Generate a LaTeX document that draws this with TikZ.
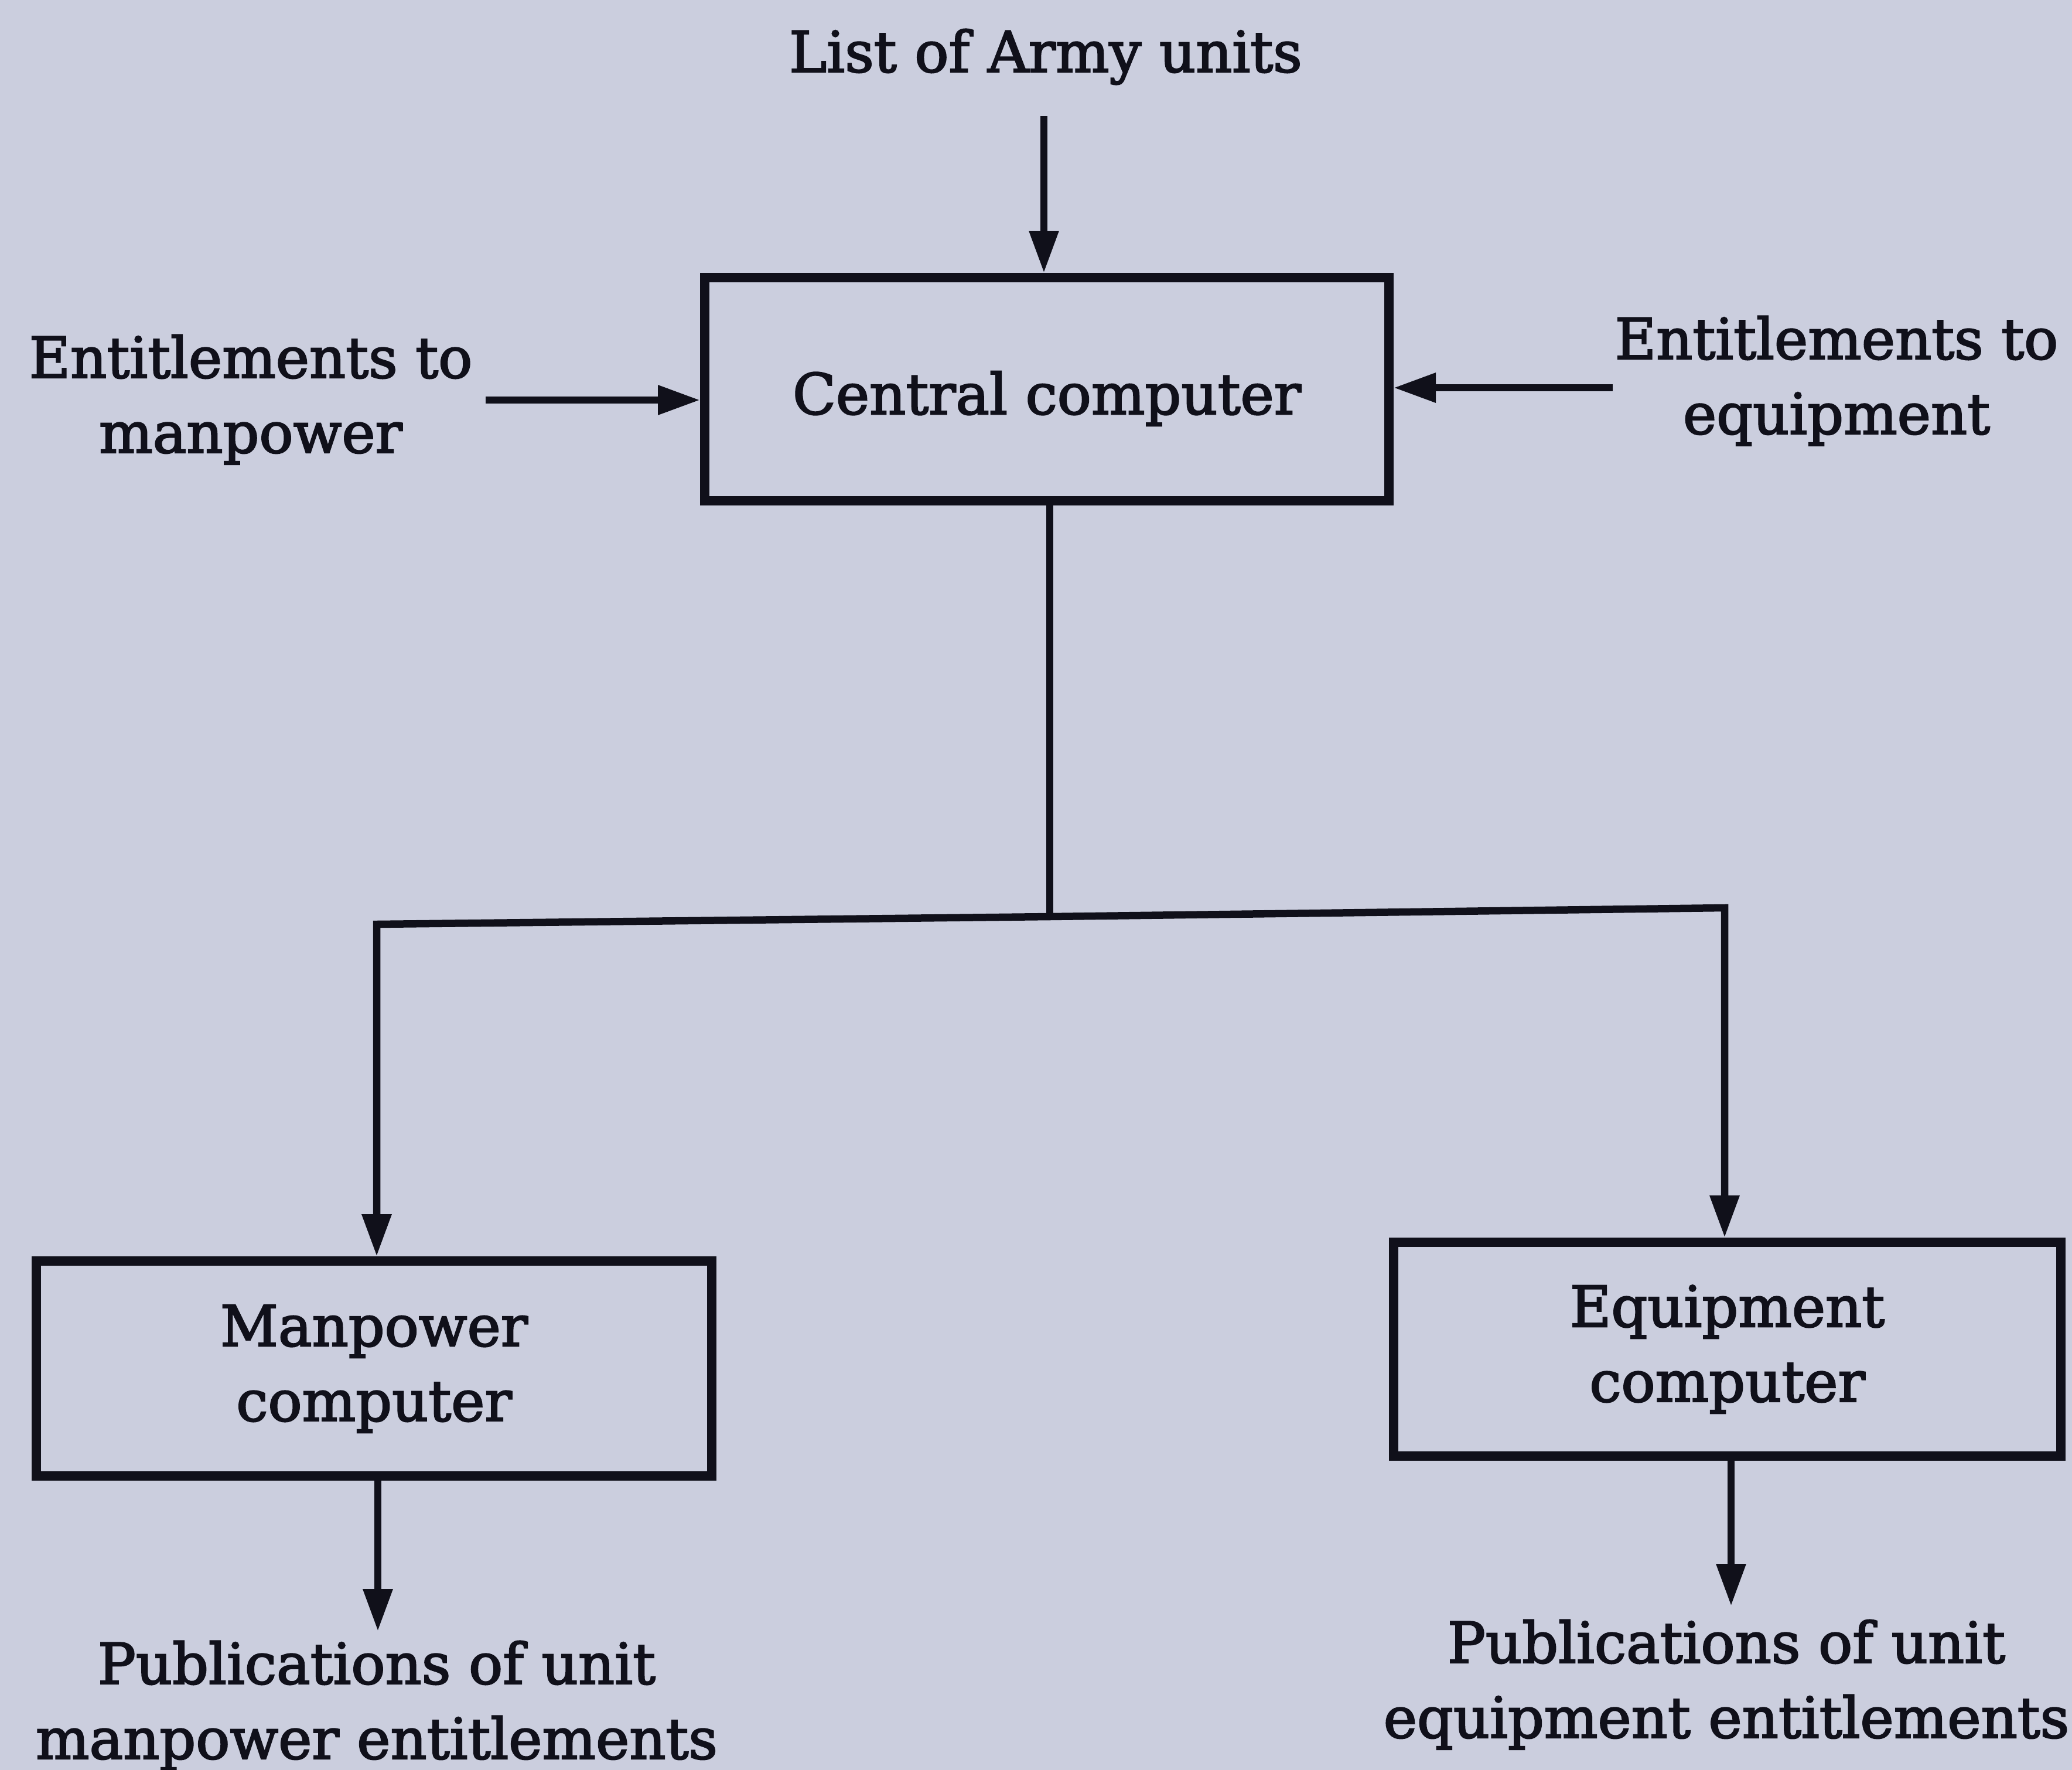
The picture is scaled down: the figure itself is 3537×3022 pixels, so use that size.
\documentclass[tikz,border=0pt]{standalone}
\usepackage{fontspec}
\setmainfont{DejaVu Serif}[FakeBold=2.4]
\usetikzlibrary{arrows.meta}
\definecolor{paper}{RGB}{203,206,222}
\definecolor{ink}{RGB}{16,16,26}
\newcommand{\twoline}[3][c]{\begin{tabular}[#1]{@{}c@{}}#2\\#3\end{tabular}}
\begin{document}
\begin{tikzpicture}[x=0.1mm, y=-0.1mm,
  lbl/.style={inner sep=0pt, outer sep=0pt, text=ink, font=\fontsize{27.5pt}{36.4pt}\selectfont},
  box/.style={lbl, draw=ink, line width=1.6mm, rectangle, outer sep=0.8mm},
  conn/.style={draw=ink, line width=1.25mm},
  arr/.style={conn, -{Triangle[length=7.2mm, width=4.8mm]}},
]
\fill[paper] (0,0) rectangle (3537,3022);
\useasboundingbox (0,0) rectangle (3537,3022);

% boxes
\node[box, minimum width=116.8mm, minimum height=38.1mm] (central) at (1787,664.5) {\raisebox{-1.6mm}[\height][\depth]{Central computer}};
\node[box, minimum width=115.3mm, minimum height=36.7mm] (man) at (638.5,2336.5) {\twoline{Manpower}{computer}};
\node[box, minimum width=113.9mm, minimum height=36.5mm] (eq) at (2948.5,2303.5) {\twoline{Equipment}{computer}};

% free labels
\node[lbl, anchor=base] (army) at (1785,123) {List of Army units};
\node[lbl, anchor=base] (entman) at (428,645) {\twoline[t]{Entitlements to}{manpower}};
\node[lbl, anchor=base] (enteq) at (3135,613) {\twoline[t]{Entitlements to}{equipment}};
\node[lbl, anchor=base] (pubman) at (643,2875) {\twoline[t]{Publications of unit}{manpower entitlements}};
\node[lbl, anchor=base] (pubeq) at (2947,2839) {\twoline[t]{Publications of unit}{equipment entitlements}};

% inputs to central computer
\coordinate (armyout) at (1782,198);
\draw[arr] (armyout) -- (armyout |- central.north);
\coordinate (manin) at (829,683);
\draw[arr] (manin) -- (manin -| central.west);
\coordinate (eqin) at (2753,662);
\draw[arr] (eqin) -- (eqin -| central.east);

% distribution
\coordinate (jc) at (1792,1565);
\coordinate (jl) at (643,1578);
\coordinate (jr) at (2944,1550);
\draw[conn] (jc |- central.south) -- (jc);
\draw[arr, line join=miter] (jc) -- (jl) -- (jl |- man.north);
\draw[arr, line join=miter] (jc) -- (jr) -- (jr |- eq.north);

% outputs
\coordinate (manout) at (645,2785);
\draw[arr] (manout |- man.south) -- (manout);
\coordinate (eqout) at (2955,2742);
\draw[arr] (eqout |- eq.south) -- (eqout);
\end{tikzpicture}
\end{document}
